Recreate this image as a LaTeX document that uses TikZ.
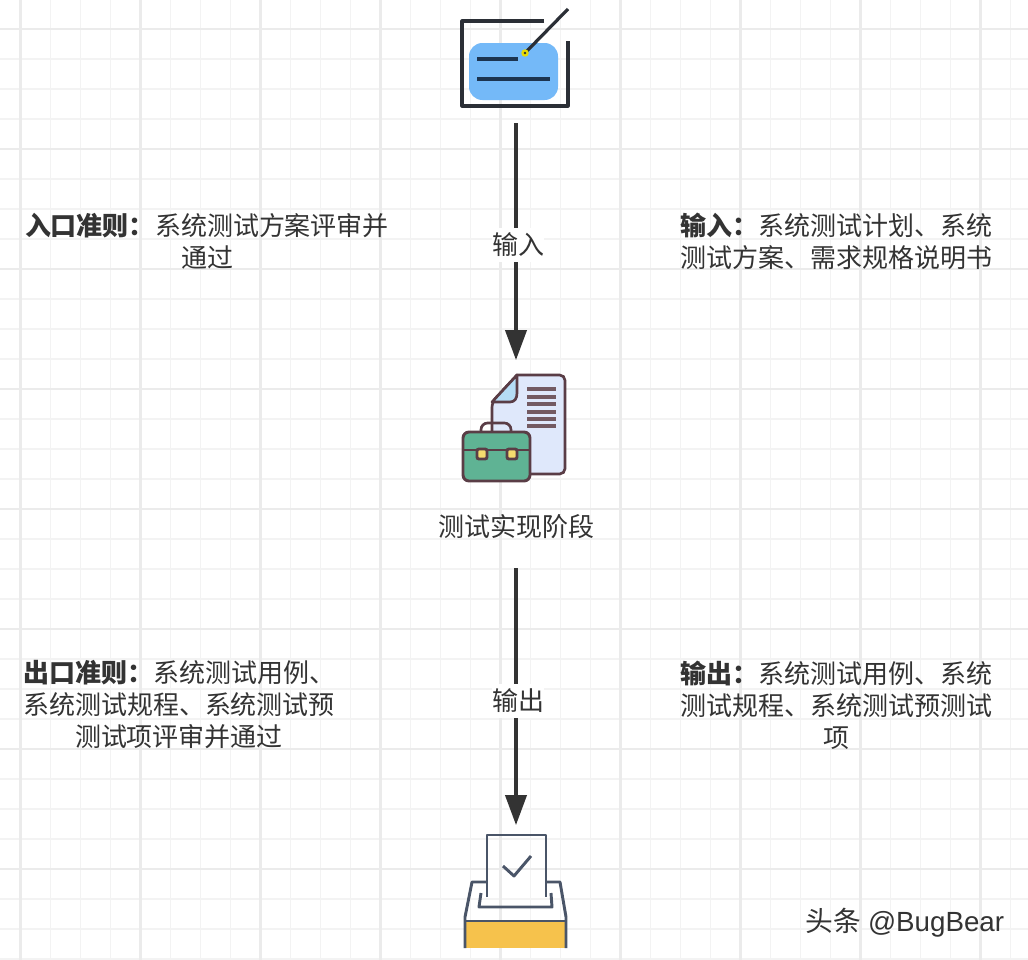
\documentclass[tikz,border=0pt]{standalone}
\usepackage{fontspec}
\setmainfont{Noto Sans CJK SC}
\newfontfamily\latinwm{Liberation Sans}
\usetikzlibrary{arrows.meta}
\definecolor{gridminor}{HTML}{F3F3F3}
\definecolor{gridmajor}{HTML}{EBEBEB}
\definecolor{ink}{HTML}{333333}
\definecolor{pen}{HTML}{2B2F36}
\definecolor{cardblue}{HTML}{74B9F8}
\definecolor{navy}{HTML}{1C3450}
\definecolor{docline}{HTML}{5A3D46}
\definecolor{docfill}{HTML}{DFE8FB}
\definecolor{foldfill}{HTML}{B5DCF5}
\definecolor{casefill}{HTML}{5FB394}
\definecolor{clasp}{HTML}{F5DC6E}
\definecolor{slate}{HTML}{4A5568}
\definecolor{traygold}{HTML}{F6C24C}
\tikzset{
  x=0.75pt,y=-0.75pt,
  txt/.style={inner sep=0pt,align=center,text=ink,font=\fontsize{19.5}{24}\selectfont},
  edgelabel/.style={txt,fill=white,minimum width=37pt,minimum height=25pt},
  iconbox/.style={inner sep=0pt,outer sep=0pt,minimum width=81pt},
  flow/.style={draw=ink,line width=2.3pt,-{Triangle[length=22.5pt,width=16pt]}},
  minorline/.style={draw=gridminor,line width=1.3pt},
  majorline/.style={draw=gridmajor,line width=1.7pt},
}
\begin{document}
\begin{tikzpicture}
\useasboundingbox (0,0) rectangle (1028,960);
\fill[white] (0,0) rectangle (1028,960);
% grid
\foreach \k in {0,...,34}{\draw[minorline] ({20.5+30*\k},0) -- ({20.5+30*\k},960);}
\foreach \k in {0,...,31}{\draw[minorline] (0,{29+30*\k}) -- (1028,{29+30*\k});}
\foreach \k in {0,...,8}{\draw[majorline] ({20.5+120*\k},0) -- ({20.5+120*\k},960);}
\foreach \k in {0,...,7}{\draw[majorline] (0,{29+120*\k}) -- (1028,{29+120*\k});}
% icon 1: signing card
\fill[cardblue,rounded corners=10pt] (469,43) rectangle (558,100);
\draw[pen,line width=2.3pt,line join=round] (544,21) -- (462,21) -- (462,106) -- (568,106) -- (568,41);
\draw[navy,line width=2.3pt] (477,59) -- (518,59);
\draw[navy,line width=2.3pt] (477,79) -- (550,79);
\draw[pen,line width=2.4pt] (568,9) -- (525,53);
\fill[yellow!80!olive] (525,53) circle (2.8pt);
\fill[pen] (525,53) circle (1.1pt);
% icon 2: document and briefcase
\draw[docline,line width=2pt,fill=docfill,rounded corners=4pt] (517,375) -- (565,375) -- (565,474) -- (525,474) -- (492,474) -- (492,402) [sharp corners] -- cycle;
\draw[docline,line width=2pt,fill=foldfill,line join=round] (517,375) -- (492,402) -- (510,402) .. controls (515,402) and (517,398) .. (517,393) -- cycle;
\foreach \yy in {389,397,404,412,419,426}{\draw[docline!85!white,line width=2.3pt] (527,\yy) -- (556,\yy);}
\draw[docline,line width=2pt,rounded corners=5pt] (481,433) -- (481,423) -- (511,423) -- (511,433);
\draw[docline,line width=2.2pt,fill=casefill,rounded corners=4.5pt] (463,432) rectangle (530,481);
\draw[docline,line width=2.2pt] (463,450) -- (530,450);
\draw[docline,line width=2.2pt,fill=clasp,rounded corners=1.5pt] (477,449) rectangle (487,459);
\draw[docline,line width=2.2pt,fill=clasp,rounded corners=1.5pt] (507,449) rectangle (517,459);
% icon 3: paper in tray
\fill[traygold] (465,921) rectangle (566,948);
\draw[slate,line width=2.2pt,line join=round] (465,948) -- (465,917) -- (472,882) -- (487,882);
\draw[slate,line width=2.2pt,line join=round] (566,948) -- (566,917) -- (560,882) -- (546,882);
\draw[slate,line width=2.2pt] (465,921) -- (566,921);
\draw[slate,line width=2.2pt,line join=round] (481,893) -- (479,907) -- (552,907) -- (551,893);
\draw[slate,line width=2.2pt,line join=round] (487,897) -- (487,835) -- (546,835) -- (546,897);
\draw[slate,line width=2.2pt,line join=round] (503,866) -- (514,876) -- (531,856);
% anchors of the connectors
\node[iconbox,minimum height=94.5pt] (start) at (516,60) {};
\node[iconbox,minimum height=90pt] (doc) at (516,420) {};
\node[iconbox,minimum height=61.5pt] (phase) at (516,527) {};
\node[iconbox,minimum height=93pt] (tray) at (516,887) {};
\node[txt] (phasetext) at (516,527) {测试实现阶段};
% connectors
\draw[flow] (start.south) -- (doc.north);
\draw[flow] (phase.south) -- (tray.north);
\node[edgelabel] (inlabel) at (518,245) {输入};
\node[edgelabel] (outlabel) at (518,701) {输出};
% notes
\node[txt] (entry) at (207,241) {\textbf{入口准则：}系统测试方案评审并\\通过};
\node[txt] (input) at (836,241) {\textbf{输入：}系统测试计划、系统\\测试方案、需求规格说明书};
\node[txt] (exit) at (179,705) {\textbf{出口准则：}系统测试用例、\\系统测试规程、系统测试预\\测试项评审并通过};
\node[txt] (output) at (836,705) {\textbf{输出：}系统测试用例、系统\\测试规程、系统测试预测试\\项};
\node[inner sep=0pt,text=ink,font=\fontsize{20.8}{24}\selectfont] (mark) at (905,923) {头条\hspace{5pt}{\latinwm @BugBear}};
\end{tikzpicture}
\end{document}
